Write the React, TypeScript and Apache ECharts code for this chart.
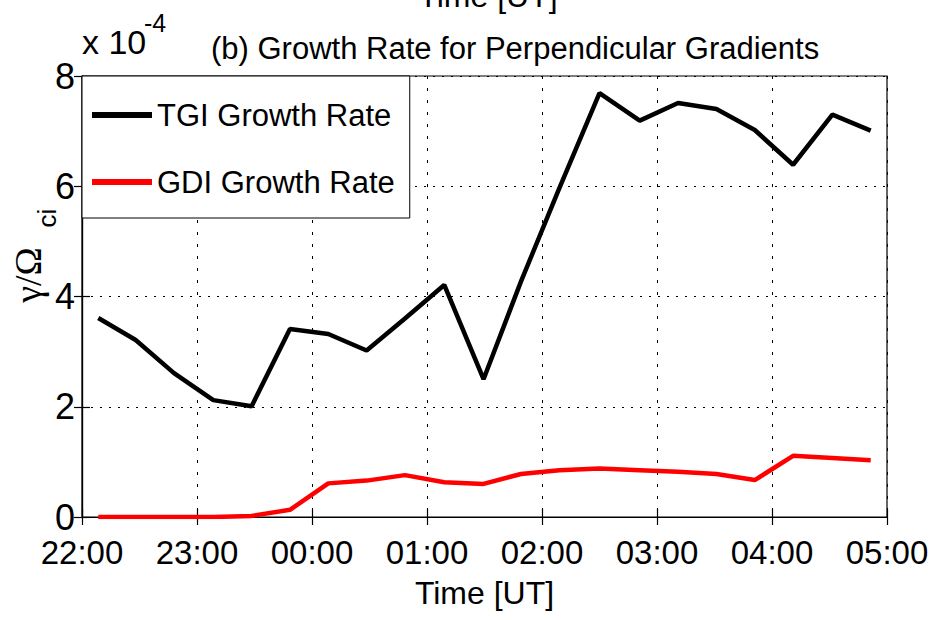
import React, { useEffect, useRef } from "react";
import * as echarts from "echarts";

// minutes after 22:00 UT
const timeMinutes = [8.5, 28, 48, 68.5, 88.5, 108.5, 128.5, 148.5, 168.5, 189, 209.5, 229, 249, 270, 291, 311, 331, 351, 371, 391.5, 411.5];
// growth rates in units of 1e-4
const tgiRate = [3.61, 3.21, 2.61, 2.12, 2.01, 3.41, 3.32, 3.02, 3.6, 4.21, 2.5, 4.27, 5.96, 7.69, 7.19, 7.51, 7.4, 7.02, 6.39, 7.3, 7.01];
const gdiRate = [0, 0, 0, 0, 0.02, 0.13, 0.61, 0.66, 0.76, 0.63, 0.6, 0.78, 0.85, 0.88, 0.85, 0.82, 0.78, 0.67, 1.11, 1.07, 1.03];
const xTickLabels = ["22:00", "23:00", "00:00", "01:00", "02:00", "03:00", "04:00", "05:00"];
const seriesNames = ["TGI Growth Rate", "GDI Growth Rate"];

const SANS = "'Liberation Sans', Arial, Helvetica, sans-serif";
const SERIF = "'Liberation Serif', 'Times New Roman', serif";

export default function App() {
  const ref = useRef<HTMLDivElement>(null);
  useEffect(() => {
    document.body.style.margin = "0";
    if (!ref.current) return;
    const chart = echarts.init(ref.current, undefined, { renderer: "svg" });
    const tickCommon = { show: true, inside: true, length: 8, lineStyle: { color: "#000", width: 1.2 } };
    const option: any = {
      animation: false,
      backgroundColor: "#fff",
      title: {
        text: "(b) Growth Rate for Perpendicular Gradients",
        left: 211,
        top: 33,
        padding: 0,
        textStyle: { fontFamily: SANS, fontSize: 31, fontWeight: "normal", color: "#000" },
      },
      legend: {
        data: seriesNames,
        orient: "vertical",
        left: 82,
        top: 76,
        icon: "rect",
        itemWidth: 60,
        itemHeight: 6,
        itemGap: 29,
        padding: [20, 15, 17, 10],
        borderColor: "#000",
        borderWidth: 1,
        borderRadius: 0,
        backgroundColor: "#fff",
        textStyle: { fontFamily: SANS, fontSize: 31, color: "#000", lineHeight: 38 },
        z: 10,
      },
      grid: {
        left: 82,
        right: 44,
        top: 76,
        bottom: 103,
        outerBoundsMode: "none",
        containLabel: false,
        show: true,
        borderColor: "#000",
        borderWidth: 1.2,
        backgroundColor: "transparent",
      },
      xAxis: [
        {
          type: "value",
          min: 0,
          max: 420,
          interval: 60,
          position: "bottom",
          name: "Time [UT]",
          nameLocation: "middle",
          nameGap: 60,
          nameTextStyle: { fontFamily: SANS, fontSize: 32, color: "#000" },
          axisLine: { show: true, lineStyle: { color: "#000", width: 1.2 } },
          axisTick: tickCommon,
          axisLabel: {
            margin: 19,
            fontFamily: SANS,
            fontSize: 33,
            color: "#000",
            formatter: (v: number) => xTickLabels[Math.round(v / 60)] ?? "",
          },
          splitLine: { show: true, lineStyle: { color: "#000", type: [3, 9], width: 1 } },
        },
        {
          type: "value",
          min: 0,
          max: 420,
          interval: 60,
          position: "top",
          axisLine: { show: true, lineStyle: { color: "#000", width: 1.2 } },
          axisTick: tickCommon,
          axisLabel: { show: false },
          splitLine: { show: false },
        },
      ],
      yAxis: [
        {
          type: "value",
          min: 0,
          max: 8,
          interval: 2,
          position: "left",
          axisLine: { show: true, lineStyle: { color: "#000", width: 1.2 } },
          axisTick: tickCommon,
          axisLabel: { margin: 7, fontFamily: SANS, fontSize: 36, color: "#000" },
          splitLine: { show: true, lineStyle: { color: "#000", type: [2, 7], width: 1.2 } },
        },
        {
          type: "value",
          min: 0,
          max: 8,
          interval: 2,
          position: "right",
          axisLine: { show: true, lineStyle: { color: "#000", width: 1.2 } },
          axisTick: tickCommon,
          axisLabel: { show: false },
          splitLine: { show: false },
        },
      ],
      graphic: [
        { type: "text", left: 82, top: 25, style: { text: "x 10", fontFamily: SANS, fontSize: 34, fill: "#000" } },
        { type: "text", left: 144, top: 10, style: { text: "-4", fontFamily: SANS, fontSize: 25, fill: "#000" } },
        { type: "text", x: 488, y: -4, style: { text: "Time [UT]", fontFamily: SANS, fontSize: 32, fill: "#000", align: "center", verticalAlign: "middle" } },
        {
          type: "text",
          x: 28,
          y: 275,
          rotation: Math.PI / 2,
          style: { text: "γ/Ω", fontFamily: SERIF, fontSize: 38, fill: "#000", align: "center", verticalAlign: "middle" },
        },
        {
          type: "text",
          x: 47,
          y: 218,
          rotation: Math.PI / 2,
          style: { text: "ci", fontFamily: SANS, fontSize: 26, fill: "#000", align: "center", verticalAlign: "middle" },
        },
      ],
      series: [
        {
          name: seriesNames[0],
          type: "line",
          xAxisIndex: 0,
          yAxisIndex: 0,
          symbol: "none",
          lineStyle: { color: "#000", width: 4.5 },
          itemStyle: { color: "#000" },
          data: timeMinutes.map((t, i) => [t, tgiRate[i]]),
          z: 3,
        },
        {
          name: seriesNames[1],
          type: "line",
          xAxisIndex: 0,
          yAxisIndex: 0,
          symbol: "none",
          lineStyle: { color: "#ff0000", width: 4.5 },
          itemStyle: { color: "#ff0000" },
          data: timeMinutes.map((t, i) => [t, gdiRate[i]]),
          z: 3,
        },
      ],
    };
    chart.setOption(option);
    return () => chart.dispose();
  }, []);
  return <div ref={ref} style={{ width: 931, height: 620 }} />;
}
